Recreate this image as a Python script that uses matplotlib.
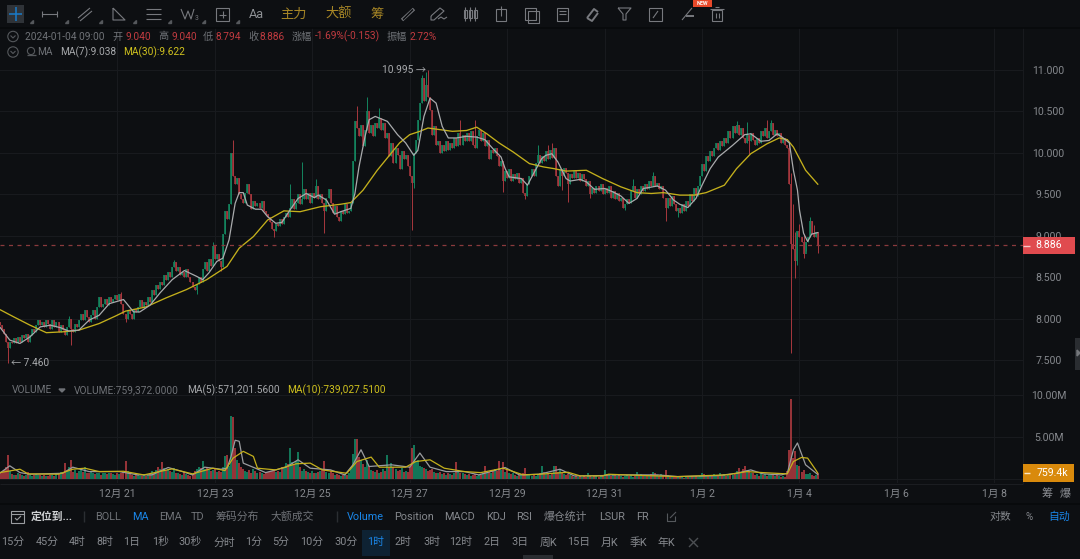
import matplotlib
matplotlib.use('Agg')
import matplotlib.pyplot as plt
from matplotlib.patches import Rectangle, Circle

plt.rcParams['font.family'] = ['Roboto', 'Noto Sans CJK SC', 'DejaVu Sans']

BG = '#0d0f12'
GRID = '#181a1e'
GREEN = '#14855f'
RED = '#a8383e'
VOL_GREEN = '#15906a'
VOL_RED = '#b83d42'
MA_GRAY = '#a9abad'
MA_YELLOW = '#c4b01c'
TXT = '#6f7277'
TXT2 = '#85888d'
BLUE = '#1a86e8'

# hourly closes, one per candle, last one is 2024-01-04 09:00
closes = [
    7.92, 7.88, 7.82, 7.72, 7.64, 7.72, 7.70, 7.76, 7.70, 7.78,
    7.72, 7.80, 7.76, 7.82, 7.72, 7.80, 7.88, 7.84, 7.92, 7.98,
    7.92, 7.96, 7.90, 7.98, 7.94, 7.88, 7.98, 7.90, 7.96, 7.84,
    7.92, 7.86, 7.80, 7.90, 8.00, 7.88, 7.84, 7.94, 7.90, 7.98,
    8.06, 7.98, 8.10, 8.02, 7.96, 8.04, 8.10, 8.00, 8.14, 8.26,
    8.14, 8.18, 8.24, 8.16, 8.26, 8.20, 8.24, 8.28, 8.22, 8.30,
    8.18, 8.06, 8.00, 8.10, 8.06, 8.00, 8.12, 8.08, 8.14, 8.22,
    8.14, 8.20, 8.16, 8.26, 8.20, 8.34, 8.28, 8.40, 8.36, 8.44,
    8.40, 8.52, 8.46, 8.56, 8.50, 8.62, 8.68, 8.58, 8.62, 8.52,
    8.56, 8.50, 8.60, 8.50, 8.44, 8.38, 8.34, 8.42, 8.50, 8.44,
    8.60, 8.68, 8.58, 8.72, 8.64, 8.88, 8.72, 8.78, 8.70, 8.62,
    9.02, 9.30, 9.20, 9.38, 10.00, 9.72, 9.62, 9.70, 9.50, 9.44,
    9.40, 9.52, 9.62, 9.50, 9.32, 9.42, 9.36, 9.40, 9.34, 9.42,
    9.30, 9.26, 9.22, 9.16, 9.08, 9.06, 9.14, 9.12, 9.20, 9.14,
    9.22, 9.28, 9.22, 9.34, 9.44, 9.32, 9.40, 9.50, 9.38, 9.44,
    9.56, 9.44, 9.52, 9.40, 9.52, 9.46, 9.60, 9.44, 9.50, 9.40,
    9.30, 9.46, 9.56, 9.40, 9.28, 9.36, 9.22, 9.18, 9.30, 9.26,
    9.38, 9.28, 9.30, 9.40, 9.90, 10.38, 10.30, 10.20, 10.34, 10.08,
    10.28, 10.50, 10.24, 10.34, 10.20, 10.36, 10.30, 10.42, 10.28, 10.36,
    10.18, 10.24, 9.96, 10.12, 9.88, 10.06, 9.98, 9.80, 10.02, 9.92,
    9.98, 9.84, 9.72, 9.64, 10.00, 10.16, 10.40, 10.60, 10.90, 10.62,
    10.82, 10.68, 10.52, 10.22, 10.32, 10.10, 10.14, 10.00, 10.10, 10.02,
    10.14, 10.04, 10.12, 10.06, 10.18, 10.08, 10.24, 10.10, 10.22, 10.14,
    10.24, 10.14, 10.26, 10.10, 10.06, 10.20, 10.28, 10.14, 10.24, 10.08,
    10.16, 9.92, 10.04, 10.00, 10.06, 9.96, 9.84, 9.90, 9.66, 9.78,
    9.70, 9.80, 9.66, 9.74, 9.68, 9.76, 9.64, 9.70, 9.52, 9.48,
    9.62, 9.72, 9.80, 9.72, 9.88, 9.98, 9.88, 9.96, 9.90, 10.02,
    9.92, 10.04, 9.94, 10.06, 9.72, 9.60, 9.80, 9.72, 9.82, 9.76,
    9.62, 9.74, 9.70, 9.78, 9.70, 9.76, 9.66, 9.74, 9.68, 9.60,
    9.66, 9.50, 9.58, 9.52, 9.60, 9.54, 9.62, 9.50, 9.58, 9.52,
    9.60, 9.46, 9.54, 9.44, 9.52, 9.42, 9.46, 9.34, 9.38, 9.44,
    9.40, 9.54, 9.60, 9.46, 9.56, 9.50, 9.60, 9.54, 9.62, 9.56,
    9.66, 9.60, 9.72, 9.60, 9.64, 9.56, 9.60, 9.46, 9.34, 9.46,
    9.36, 9.48, 9.38, 9.30, 9.34, 9.28, 9.38, 9.30, 9.42, 9.36,
    9.50, 9.42, 9.58, 9.48, 9.60, 9.72, 9.86, 9.78, 9.96, 9.90,
    10.02, 9.96, 10.06, 10.12, 10.04, 10.14, 10.08, 10.18, 10.12, 10.26,
    10.18, 10.32, 10.24, 10.34, 10.22, 10.30, 10.18, 10.12, 10.22, 10.14,
    10.24, 10.16, 10.10, 10.18, 10.12, 10.26, 10.20, 10.30, 10.18, 10.26,
    10.36, 10.22, 10.28, 10.20, 10.24, 10.12, 10.18, 10.10, 10.06, 9.62,
    8.90, 8.84, 8.70, 9.06, 8.98, 8.92, 8.78, 8.92, 8.98, 9.18,
    9.02, 8.98, 9.04, 8.886,
]
first_open = 7.96

# only the wicks long enough to see
wick_highs = {34: 8.03, 60: 8.32, 86: 8.71, 105: 8.93, 115: 10.155, 143: 9.63,
              149: 9.89, 156: 9.69, 176: 10.56, 181: 10.68, 187: 10.54,
              208: 10.94, 210: 10.97, 211: 10.995, 227: 10.40, 234: 10.40,
              265: 10.10, 270: 10.10, 272: 10.12, 312: 9.69, 322: 9.77,
              363: 10.38, 368: 10.37, 378: 10.40, 380: 10.40, 389: 10.12,
              390: 9.76, 391: 9.38, 392: 9.05, 394: 9.14, 396: 9.02, 399: 9.22,
              401: 9.13, 403: 9.04}
wick_lows = {4: 7.46, 35: 7.68, 62: 7.96, 97: 8.30, 109: 8.58, 135: 8.99,
             160: 9.03, 203: 9.07, 204: 9.58, 248: 9.53, 259: 9.44, 277: 9.55,
             280: 9.41, 291: 9.45, 308: 9.31, 328: 9.18, 334: 9.23, 369: 9.99,
             390: 7.58, 392: 8.49, 393: 8.65, 396: 8.73, 397: 8.82, 403: 8.794}

# volume in millions
volumes = [
    .7, .9, 1.1, 1.4, 2.9, 1.0, .6, .5, .5, .8,
    .6, .5, .4, .5, .9, .5, .4, .5, .6, .5,
    .5, .4, .5, .4, .4, .5, .5, .4, .6, .8,
    .9, .8, 1.9, 1.0, 1.4, 2.3, .9, 1.1, .8, 1.0,
    1.2, .9, 1.4, .8, .7, 1.0, .8, .6, .7, .8,
    .5, .7, .8, .6, .8, .7, .6, .5, .7, .6,
    .8, .9, 2.2, 1.0, .6, .5, .4, .5, .5, .4,
    .4, .5, .4, .5, .6, 1.0, .8, 1.1, 1.4, 1.2,
    2.0, 1.3, 1.1, 1.2, 1.0, .9, 1.3, .8, .7, .6,
    .5, .9, .6, .5, .4, .6, 1.0, 1.2, 1.4, 1.3,
    2.2, 1.2, 1.3, 1.1, 1.0, 1.1, 1.3, .9, 1.0, .9,
    1.4, 2.7, 2.9, 1.6, 7.45, 7.3, 3.7, 2.3, 1.9, 1.4,
    1.2, 1.0, .9, 1.1, .8, 1.2, 1.0, .8, .9, .7,
    .6, .8, .9, 1.0, 1.0, 1.1, .9, 1.0, .9, 1.4,
    1.3, 1.9, 1.8, 3.7, 2.1, 1.8, 2.2, 3.2, 1.4, 1.0,
    1.2, 1.0, .9, .8, 1.0, .7, .8, .9, 1.0, 1.2,
    2.2, .9, .8, 1.0, .8, .5, .6, .5, .4, .5,
    .6, .5, .8, 1.5, 3.0, 4.8, 4.8, 2.6, 2.3, 1.8,
    1.4, 2.3, 1.6, 1.1, 1.0, .9, 1.1, .8, .9, 1.2,
    1.0, 2.9, 1.4, 1.9, 1.5, 1.2, 1.0, 1.1, 1.3, .9,
    1.0, .9, 1.4, 3.7, 4.0, 2.0, 2.3, 1.6, 1.5, 1.3,
    1.2, 1.0, 1.1, 1.2, .9, .8, .7, .9, .6, .7,
    .5, .8, .6, .5, .7, 2.0, .9, .7, .8, .6,
    .5, .6, .4, .5, .6, .4, .5, .5, .7, 1.6,
    .8, .9, .7, 1.0, 1.2, 1.0, 2.2, 1.1, 2.0, .9,
    1.2, .8, .6, .7, .5, .4, .5, .6, .7, 1.3,
    .6, .5, .4, .5, .4, .6, .7, 1.6, .9, .6,
    .7, .5, .8, 1.6, 1.6, .9, 1.1, .7, .6, .5,
    .6, .5, .4, .3, .4, .3, .4, .3, .4, .3,
    .7, .4, .3, .4, .5, .3, .4, .4, 1.1, .6,
    .5, .4, .6, .5, .4, .5, .4, .3, .4, .5,
    .4, .5, .3, .4, .9, .5, .6, .4, .5, .4,
    .5, .6, .9, .8, .5, .4, .6, .5, 1.1, .5,
    .4, .3, .4, .3, .4, .3, .3, .2, .3, .3,
    .3, .4, .3, .4, .3, .4, .7, .6, .5, .4,
    .5, .4, .6, .5, .4, .7, .5, .6, .4, .5,
    .6, .5, .8, 1.0, 1.3, .9, 1.2, 1.6, 1.1, 1.0,
    .8, .7, .5, .6, .4, .7, .5, .6, .4, .5,
    .5, .6, .4, .5, .4, .3, .4, .3, 1.0, 3.5,
    9.45, 2.5, 3.4, 1.7, 1.6, .9, 1.1, .6, .6, .7,
    .5, .4, .5, .759,
]

# moving averages: candle index, value
ma7_idx = [0, 5, 10, 15, 20, 25, 30, 34, 39, 44, 49, 54, 61, 66, 69, 74, 79, 85, 91, 97, 100, 103, 107, 110, 113,
           116, 118, 120, 122, 126, 129, 132, 136, 139, 143, 147, 151, 155, 157, 161, 165, 168, 173, 175, 177, 180,
           182, 185, 191, 196, 200, 204, 206, 209, 212, 215, 218, 221, 225, 230, 235, 239, 243, 247, 249, 251, 257,
           260, 263, 267, 269, 272, 275, 279, 281, 286, 289, 293, 298, 302, 306, 310, 314, 317, 324, 328, 332, 335,
           339, 343, 346, 350, 354, 361, 367, 370, 375, 379, 383, 386, 389, 391, 393, 394, 396, 398, 400, 403]
ma7_val = [7.90, 7.74, 7.70, 7.78, 7.90, 7.92, 7.89, 7.85, 7.86, 7.98, 8.04, 8.18, 8.23, 8.08, 8.08, 8.16, 8.31, 8.47,
           8.58, 8.51, 8.47, 8.55, 8.69, 8.73, 8.95, 9.39, 9.52, 9.52, 9.37, 9.32, 9.32, 9.23, 9.15, 9.16, 9.31, 9.45,
           9.51, 9.46, 9.49, 9.43, 9.26, 9.29, 9.33, 9.51, 9.83, 10.20, 10.40, 10.44, 10.38, 10.22, 10.12, 9.97,
           10.03, 10.44, 10.66, 10.60, 10.32, 10.18, 10.18, 10.20, 10.19, 10.16, 10.05, 9.95, 9.81, 9.71, 9.69, 9.61,
           9.75, 9.93, 9.97, 9.99, 9.89, 9.69, 9.66, 9.68, 9.65, 9.56, 9.57, 9.53, 9.48, 9.39, 9.45, 9.57, 9.60, 9.55,
           9.43, 9.38, 9.34, 9.45, 9.61, 9.81, 9.95, 10.09, 10.22, 10.23, 10.14, 10.15, 10.23, 10.18, 10.12, 9.79,
           9.55, 9.31, 9.03, 8.93, 9.02, 9.038]
ma30_idx = [0, 7, 15, 23, 31, 39, 49, 57, 62, 72, 82, 92, 102, 112, 118, 125, 132, 140, 148, 158, 168, 173, 179, 186,
            192, 197, 202, 207, 211, 217, 223, 230, 235, 240, 246, 253, 261, 268, 273, 279, 289, 297, 306, 314, 321,
            327, 335, 342, 348, 357, 363, 370, 378, 384, 388, 391, 397, 403]
ma30_val = [8.11, 8.02, 7.92, 7.83, 7.84, 7.86, 7.94, 8.03, 8.09, 8.14, 8.25, 8.35, 8.47, 8.63, 8.85, 8.99, 9.19, 9.30,
            9.29, 9.35, 9.38, 9.40, 9.55, 9.79, 9.97, 10.12, 10.22, 10.26, 10.30, 10.28, 10.26, 10.27, 10.31, 10.23,
            10.12, 10.01, 9.87, 9.83, 9.81, 9.78, 9.79, 9.69, 9.59, 9.52, 9.51, 9.52, 9.49, 9.49, 9.52, 9.61, 9.81,
            9.99, 10.11, 10.18, 10.16, 10.07, 9.79, 9.622]
vol_ma5_idx = [0, 5, 10, 15, 31, 36, 44, 51, 59, 68, 75, 83, 90, 95, 101, 109, 112, 114, 116, 118, 120, 126, 131, 141,
               147, 153, 163, 170, 174, 178, 182, 193, 202, 207, 212, 220, 229, 236, 249, 256, 266, 276, 283, 297, 300,
               324, 334, 354, 363, 370, 376, 385, 388, 391, 393, 397, 403]
vol_ma5_val = [.71, 1.59, .79, .60, .71, 1.43, .91, .91, .91, .52, .52, 1.39, .91, .52, 1.43, 1.19, 1.31, 2.70, 4.61,
               4.49, 1.91, 1.31, .79, 1.43, 2.30, 1.31, 1.11, .52, 1.71, 3.49, 1.51, 1.71, 1.43, 3.10, 1.43, .91, .91,
               .52, 1.39, .52, .60, 1.19, .40, .44, .52, .52, .32, .44, .71, 1.11, .64, .52, .71, 3.49, 4.29, 1.71, .571]
vol_ma10_idx = [0, 10, 14, 29, 36, 42, 49, 61, 71, 85, 95, 105, 111, 115, 120, 125, 127, 136, 146, 153, 159, 171, 176,
                183, 187, 200, 205, 212, 219, 229, 237, 248, 258, 266, 280, 286, 297, 300, 308, 334, 358, 368, 376,
                388, 391, 395, 398, 402, 403]
vol_ma10_val = [.79, 1.19, .64, .60, 1.19, 1.31, .91, .95, .52, 1.23, .64, 1.31, 1.03, 2.50, 3.30, 2.70, 1.31, 1.11,
                1.83, 1.91, 1.11, .71, 2.10, 2.62, 1.43, 1.43, 2.10, 2.30, 1.31, .91, .79, 1.31, .52, .60, .83, .40,
                .40, .60, .52, .32, .52, .91, .79, .64, 2.10, 2.58, 2.50, 1.11, .739]

price_ticks = [7.5, 8.0, 8.5, 9.0, 9.5, 10.0, 10.5, 11.0]
vol_ticks = [5, 10]
vol_tick_labels = ['5.00M', '10.00M']
date_ticks = [58, 106, 154, 202, 250, 298, 346, 394, 442, 490]
date_labels = ['12月 21', '12月 23', '12月 25', '12月 27', '12月 29', '12月 31', '1月 2', '1月 4', '1月 6', '1月 8']
last_price = 8.886

W, H = 1080, 559
fig = plt.figure(figsize=(W / 100, H / 100), dpi=100, facecolor=BG)


def pane(left, top, right, bottom):
    return fig.add_axes([left / W, 1 - bottom / H, (right - left) / W, (bottom - top) / H], facecolor=BG)


ax = pane(0, 28, 1023, 383)
vax = pane(0, 383, 1023, 483)

xmin, xmax = 0.17, 504.1
n = len(closes)
xs = list(range(n))
opens = [first_open] + closes[:-1]
colors = [GREEN if c >= o else RED for o, c in zip(opens, closes)]
vol_colors = [VOL_GREEN if c >= o else VOL_RED for o, c in zip(opens, closes)]

for a in (ax, vax):
    a.set_xlim(xmin, xmax)
    a.set_xticks(date_ticks)
    a.grid(True, color=GRID, linewidth=0.8)
    a.set_axisbelow(True)
    a.yaxis.tick_right()
    for s in ('top', 'left', 'bottom'):
        a.spines[s].set_visible(False)
    a.spines['right'].set_color(GRID)
    a.tick_params(length=0, colors=TXT2, labelsize=7.6)

ax.set_ylim(7.2226, 11.507)
ax.set_yticks(price_ticks)
ax.set_yticklabels(['%.3f' % p for p in price_ticks], ha='center')
ax.tick_params(axis='y', pad=18.5)
ax.tick_params(axis='x', labelbottom=False)

# candles
highs = [wick_highs.get(i, max(opens[i], closes[i])) for i in xs]
lows = [wick_lows.get(i, min(opens[i], closes[i])) for i in xs]
ax.vlines(xs, lows, highs, colors=colors, linewidth=0.7, capstyle='butt', zorder=2)
ax.vlines(xs, opens, closes, colors=colors, linewidth=1.15, capstyle='butt', zorder=3)
ax.plot(ma30_idx, ma30_val, color=MA_YELLOW, linewidth=0.95, zorder=4)
ax.plot(ma7_idx, ma7_val, color=MA_GRAY, linewidth=0.9, zorder=5)
ax.axhline(last_price, color='#8a3a3d', linewidth=0.9, dashes=(3.2, 3.6), zorder=6)

ax.annotate('10.995 →', xy=(211, 10.995), xytext=(-1.5, 0), textcoords='offset points', ha='right', va='center',
            color='#a9abae', fontsize=7.3, zorder=7)
ax.annotate('← 7.460', xy=(4, 7.46), xytext=(2, 0), textcoords='offset points', ha='left', va='center',
            color='#a9abae', fontsize=7.3, zorder=7)

# volume pane
vax.set_ylim(-0.437, 11.37)
vax.set_yticks(vol_ticks)
vax.set_yticklabels(vol_tick_labels, ha='center')
vax.tick_params(axis='y', pad=18.5)
vax.set_xticklabels(date_labels)
vax.tick_params(axis='x', pad=4.5)
vax.vlines(xs, 0, volumes, colors=vol_colors, linewidth=1.15, capstyle='butt', zorder=2)
vax.plot(vol_ma10_idx, vol_ma10_val, color=MA_YELLOW, linewidth=0.9, zorder=4)
vax.plot(vol_ma5_idx, vol_ma5_val, color='#9a9c9f', linewidth=0.9, zorder=3)
vax.axhline(0, color=GRID, linewidth=0.8, zorder=1)

# everything around the chart, in pixels
ui = fig.add_axes([0, 0, 1, 1], facecolor='none')
ui.set_xlim(0, W)
ui.set_ylim(H, 0)
ui.axis('off')


def label(x, y, s, color=TXT, size=7.3, ha='left', **kw):
    ui.text(x, y, s, color=color, fontsize=size, ha=ha, va='center', **kw)


def line(xx, yy, color='#77797e', lw=0.8):
    ui.plot(xx, yy, color=color, linewidth=lw, solid_capstyle='butt')


def box(x0, y0, x1, y1, color, fill=True, lw=0.8):
    ui.add_patch(Rectangle((x0, y0), x1 - x0, y1 - y0, facecolor=color if fill else 'none',
                           edgecolor=color if not fill else 'none', linewidth=lw))


box(0, 0, W, 27, '#0d0f12')
line([0, W], [27.5, 27.5], '#08090b', 1.2)
line([0, 1023], [483.5, 483.5], '#1b1d21', 0.8)
line([0, W], [504, 504], '#08090b', 1.2)

# top toolbar
box(7, 5, 24, 23, '#2f3338')
line([15.5, 15.5], [7, 21], '#1a7cc9', 1.1)
line([9, 22], [14, 14], '#1a7cc9', 1.1)
IC = '#77797e'
line([42, 57], [14, 14], IC)
line([42, 42], [11, 17], IC)
line([57, 57], [11, 17], IC)
line([78, 90], [18, 8], IC)
line([80, 92], [21, 11], IC)
line([113, 113, 125, 113], [8, 20, 20, 8], IC)
for yy in (9, 14, 19):
    line([146, 161], [yy, yy], IC)
line([181, 185, 188, 191, 194], [9, 19, 11, 19, 9], IC)
label(197, 18, '3', IC, 4.8, 'center')
box(216, 8, 229, 21, IC, False)
line([222.5, 222.5], [11, 18], IC)
line([219, 226], [14.5, 14.5], IC)
for tx in (33, 68, 102, 136, 171, 205, 239):
    ui.fill([tx - 3, tx, tx], [23, 23, 20], color='#55585c')
label(256, 14.5, 'Aa', '#8e9195', 9.2, 'center')
label(294, 14.5, '主力', '#a88726', 9.5, 'center')
label(339, 14.5, '大额', '#a88726', 9.5, 'center')
label(377, 14.5, '筹', '#a88726', 9.5, 'center')
line([402, 414], [20, 9], IC, 2.4)
line([403, 413], [19.5, 9.5], BG, 1.2)
line([431, 440, 444, 434, 431, 431], [16, 8, 11, 20, 20, 16], IC)
line([438, 441, 444, 447], [19, 17, 19, 17], IC)
for cx in (465, 470, 475):
    box(cx - 1.5, 10, cx + 1.5, 18, IC, False)
    line([cx, cx], [7, 21], IC)
box(496, 9, 506, 21, IC, False)
line([501, 501], [6, 16], IC)
box(525, 8, 536, 20, IC, False)
box(528, 11, 539, 23, IC, False)
box(557, 8, 568, 21, IC, False)
for yy in (11, 14):
    line([559, 566], [yy, yy], IC)
line([587, 594, 598], [18, 9, 12], IC, 1.4)
line([587, 592, 598], [18, 21, 13], IC, 1.4)
line([618, 631, 626, 626, 623, 623, 618], [8, 8, 14, 20, 20, 14, 8], IC)
box(649, 8, 662, 21, IC, False)
line([653, 658], [18, 11], IC)
line([682, 692], [20, 8], IC)
line([686, 694], [16, 16], IC, 1.4)
box(693, 0, 712, 6.5, '#e8492a')
label(702.5, 3.2, 'NEW', 'white', 3.9, 'center', fontweight='bold')
box(712, 10, 722, 21, IC, False)
line([710, 724], [9, 9], IC)
line([715, 719], [6.5, 6.5], IC)
line([716, 716], [13, 18], IC)
line([718.5, 718.5], [13, 18], IC)

# info rows
for cy in (36.5, 52):
    ui.add_patch(Circle((13, cy), 5.2, facecolor='none', edgecolor='#55585c', linewidth=0.8))
    line([10.5, 13, 15.5], [cy - 1, cy + 1.5, cy - 1], '#55585c', 0.8)
INFO_RED = '#c13b40'
label(25, 36.5, '2024-01-04 09:00')
for x0, name, x1, val in [(112, '开', 126, '9.040'), (158, '高', 171, '9.040'), (203, '低', 216, '8.794'),
                          (248, '收', 260, '8.886'), (292, '涨幅', 315, '-1.69%(-0.153)'),
                          (387, '振幅', 410, '2.72%')]:
    label(x0, 36.5, name)
    label(x1, 36.5, val, INFO_RED)
ui.add_patch(Circle((31, 51), 3.6, facecolor='none', edgecolor='#55585c', linewidth=0.8))
line([26.5, 35.5], [54.5, 54.5], '#55585c', 0.9)
label(37, 52, 'MA')
label(60, 52, 'MA(7):9.038', '#a6a8ab')
label(123, 52, 'MA(30):9.622', '#cfc11e')
label(12, 390, 'VOLUME')
ui.fill([59, 65, 62], [389, 389, 392], color='#6f7277')
label(74, 390, 'VOLUME:759,372.0000')
label(187, 390, 'MA(5):571,201.5600', '#a6a8ab')
label(287, 390, 'MA(10):739,027.5100', '#cfc11e')

# price and volume tags
box(1023, 237, 1075, 254, '#e04b4f')
label(1049, 245.5, '8.886', 'white', 7.6, 'center')
line([1023, 1030], [245.5, 245.5], '#f5c9ca', 1)
box(1023, 464, 1074, 482, '#d98a0c')
label(1052, 473, '759.4k', 'white', 7.6, 'center')
line([1024, 1030], [473, 473], '#fbe6c4', 1)
label(1047, 494, '筹', '#8d9095', 8, 'center')
label(1065, 494, '爆', '#8d9095', 8, 'center')
box(1075, 338, 1080, 370, '#2a2d31')
ui.fill([1077, 1080, 1077], [350, 353, 356], color='#74777b')
box(523, 555, 553, 559, '#2a2d31')

# indicator row
box(11, 511, 24, 523, '#9a9da1', False)
line([11, 24], [514, 514], '#9a9da1')
line([15, 17, 21], [518, 520, 516], '#9a9da1')
label(31, 516.5, '定位到...', '#d0d2d4', 7.8, fontweight='bold')
line([84, 84], [511, 522], '#2b2e32', 1)
line([337, 337], [511, 522], '#2b2e32', 1)
for x0, s, c in [(95, 'BOLL', TXT), (132, 'MA', BLUE), (159, 'EMA', TXT), (191, 'TD', TXT), (216, '筹码分布', TXT),
                 (271, '大额成交', TXT), (347, 'Volume', BLUE), (394, 'Position', TXT2), (444, 'MACD', TXT2),
                 (486, 'KDJ', TXT2), (516, 'RSI', TXT2), (544, '爆仓统计', TXT2), (599, 'LSUR', TXT2),
                 (636, 'FR', TXT2)]:
    label(x0, 516.5, s, c, 7.8)
line([667, 667, 675, 675], [513, 521, 521, 516], '#55585c')
line([670, 676], [518, 512], '#55585c')
label(990, 516.5, '对数', TXT2, 7.8)
label(1029, 516.5, '%', TXT2, 7.0, 'center')
label(1048, 516.5, '自动', BLUE, 7.8)

# interval row
box(362, 530, 390, 556, '#0e2233')
for cx, s in [(13, '15分'), (47, '45分'), (77, '4时'), (105, '8时'), (132, '1日'), (161, '1秒'), (190, '30秒'),
              (224, '分时'), (254, '1分'), (281, '5分'), (312, '10分'), (346, '30分'), (403, '2时'), (432, '3时'),
              (461, '12时'), (492, '2日'), (520, '3日'), (548, '周K'), (579, '15日'), (609, '月K'), (638, '季K'),
              (666, '年K')]:
    label(cx, 542.5, s, TXT2, 7.8, 'center')
label(376, 542.5, '1时', BLUE, 7.8, 'center')
line([689, 698], [538, 547], '#4c4f53', 1)
line([689, 698], [547, 538], '#4c4f53', 1)

fig.savefig('out.png', dpi=100, facecolor=BG)
